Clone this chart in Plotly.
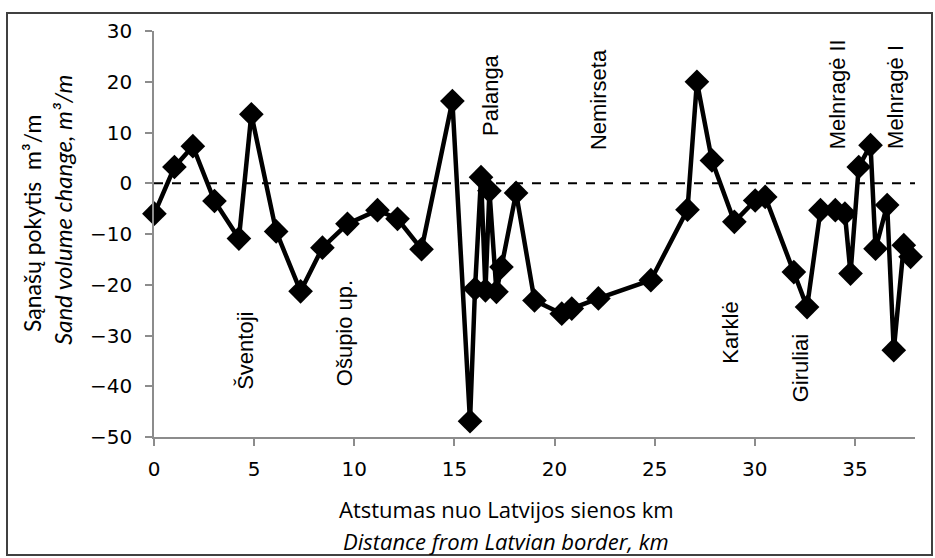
import plotly.graph_objects as go

# Data
distance_km = [0.02, 1.02, 1.94, 3.02, 4.24, 4.86, 6.1, 7.32, 8.41, 9.66, 11.16, 12.16, 13.36,
               14.9, 15.78, 16.03, 16.33, 16.55, 16.75, 17.1, 17.35, 18.08, 19.0, 20.36, 20.86,
               22.19, 24.81, 26.64, 27.11, 27.86, 28.98, 30.02, 30.52, 31.95, 32.61, 33.28,
               34.02, 34.5, 34.78, 35.19, 35.78, 36.03, 36.61, 36.94, 37.44, 37.78]
volume_change = [-6.0, 3.2, 7.3, -3.5, -10.9, 13.6, -9.5, -21.3, -12.7, -8.0, -5.3, -7.0, -13.0,
                 16.2, -46.9, -20.8, 1.2, -21.1, -1.5, -21.4, -16.5, -1.9, -23.1, -25.7, -24.7,
                 -22.7, -19.1, -5.2, 20.0, 4.5, -7.6, -3.4, -2.7, -17.5, -24.4, -5.3,
                 -5.3, -6.0, -17.8, 3.2, 7.5, -12.9, -4.3, -32.9, -12.2, -14.5]

place_names = ["Šventoji", "Ošupio up.", "Palanga", "Nemirseta", "Karklė", "Giruliai",
               "Melnragė II", "Melnragė I"]
place_x = [4.6, 9.55, 16.8, 22.2, 28.8, 32.3, 34.15, 37.05]
place_y = [-33, -29.5, 17.5, 16.5, -29.5, -36.5, 17.5, 17.0]

x_ticks = [0, 5, 10, 15, 20, 25, 30, 35]
y_ticks = [-50, -40, -30, -20, -10, 0, 10, 20, 30]
y_tick_text = [("−" + str(-v)) if v < 0 else str(v) for v in y_ticks]

W, H = 935, 558
L, R, T, B = 154, 20, 31, 121
pw, ph = W - L - R, H - T - B


def px_x(p):
    return (p - L) / pw


def px_y(p):
    return (H - B - p) / ph


fig = go.Figure()
fig.add_trace(go.Scatter(
    x=distance_km, y=volume_change, mode="lines+markers",
    line=dict(color="black", width=4.5),
    marker=dict(symbol="diamond", size=19, color="black"),
    showlegend=False, cliponaxis=False,
))

# zero reference line
fig.add_shape(type="line", xref="paper", yref="y", x0=0, x1=1, y0=0, y1=0,
              line=dict(color="black", width=2, dash="dash"), layer="below")

# figure border
fig.add_shape(type="rect", xref="paper", yref="paper",
              x0=px_x(7), x1=px_x(932), y0=px_y(555), y1=px_y(13),
              line=dict(color="#404040", width=2))

for name, xv, yv in zip(place_names, place_x, place_y):
    fig.add_annotation(x=xv, y=yv, text=name, textangle=-90, showarrow=False,
                       font=dict(family="Liberation Sans, Arial", size=22, color="black"))

fig.add_annotation(xref="paper", yref="paper", x=px_x(32), y=px_y(224),
                   xanchor="center", yanchor="middle",
                   text="Sąnašų pokytis  m³/m", textangle=-90, showarrow=False,
                   font=dict(family="Lato", size=23, color="black"))
fig.add_annotation(xref="paper", yref="paper", x=px_x(63), y=px_y(210),
                   xanchor="center", yanchor="middle",
                   text="<i>Sand volume change, m³/m</i>", textangle=-90, showarrow=False,
                   font=dict(family="Lato", size=24, color="black"))
fig.add_annotation(xref="paper", yref="paper", x=px_x(506), y=px_y(509),
                   xanchor="center", yanchor="middle",
                   text="Atstumas nuo Latvijos sienos km", showarrow=False,
                   font=dict(family="Open Sans", size=22, color="black"))
fig.add_annotation(xref="paper", yref="paper", x=px_x(506), y=px_y(541),
                   xanchor="center", yanchor="middle",
                   text="<i>Distance from Latvian border, km</i>", showarrow=False,
                   font=dict(family="Open Sans", size=22, color="black"))

fig.update_layout(
    width=W, height=H, margin=dict(l=L, r=R, t=T, b=B),
    paper_bgcolor="white", plot_bgcolor="white",
    font=dict(family="DejaVu Sans", size=20, color="black"),
    xaxis=dict(range=[0, 38], tickvals=x_ticks, showgrid=False, zeroline=False,
               showline=True, linecolor="#8c8c8c", linewidth=1.5,
               ticks="outside", ticklen=7, tickcolor="#8c8c8c", tickwidth=1.5,
               ticklabelstandoff=6, tickfont=dict(family="DejaVu Sans", size=20)),
    yaxis=dict(range=[-50, 30], tickvals=y_ticks, ticktext=y_tick_text, showgrid=False,
               zeroline=False, showline=True, linecolor="#8c8c8c", linewidth=1.5,
               ticks="outside", ticklen=7, tickcolor="#8c8c8c", tickwidth=1.5,
               ticklabelstandoff=9, tickfont=dict(family="DejaVu Sans", size=20)),
)

fig.write_html("out.html")
